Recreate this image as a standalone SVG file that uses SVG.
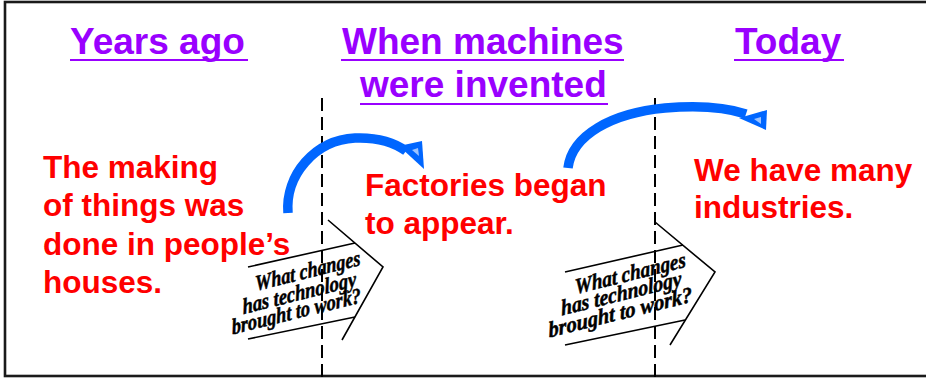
<svg xmlns="http://www.w3.org/2000/svg" width="926" height="379" viewBox="0 0 926 379">
<style>
.hd{font-family:"Liberation Sans",Arial,sans-serif;font-weight:bold;font-size:37px;fill:#9900ff;text-anchor:start}
.ul{stroke:#9900ff;stroke-width:2.2}
.rt{font-family:"Liberation Sans",Arial,sans-serif;font-weight:bold;font-size:31.5px;fill:#ff0000}
.ct{font-family:"Liberation Serif","Times New Roman",serif;font-weight:bold;font-style:italic;font-size:22px;fill:#000;stroke:#000;stroke-width:0.5;text-anchor:middle}
.co{fill:none;stroke:#000;stroke-width:1.6}
.dv{stroke:#000;stroke-width:2;stroke-dasharray:13 6}
.sh{fill:none;stroke:#0066ff;stroke-width:9.5;stroke-linecap:butt}
.ah{fill:#0066ff}
.hl{fill:#9cc3ff}
</style>
<rect x="0" y="0" width="926" height="379" fill="#fff"/>
<rect x="5" y="2" width="930" height="374" fill="none" stroke="#1a1a1a" stroke-width="2.6"/>

<g id="dividers">
<line class="dv" x1="322" y1="98" x2="322" y2="379"/>
<line class="dv" x1="655" y1="98" x2="655" y2="379"/>
</g>

<g id="heading-years-ago">
<text class="hd" x="70" y="53.5">Years ago</text>
<line class="ul" x1="70" y1="60" x2="248" y2="60"/>
</g>
<g id="heading-machines">
<text class="hd" x="342" y="53.5">When machines</text>
<line class="ul" x1="341" y1="60" x2="624" y2="60"/>
<text class="hd" x="360" y="96.5">were invented</text>
<line class="ul" x1="360" y1="104" x2="608" y2="104"/>
</g>
<g id="heading-today">
<text class="hd" x="735" y="53.5">Today</text>
<line class="ul" x1="734" y1="60" x2="844" y2="60"/>
</g>

<g id="text-years-ago">
<text class="rt" x="43" y="177.5">The making</text>
<text class="rt" x="43" y="216">of things was</text>
<text class="rt" x="43" y="254.5">done in people’s</text>
<text class="rt" x="43" y="293">houses.</text>
</g>
<g id="text-machines">
<text class="rt" x="365" y="196">Factories began</text>
<text class="rt" x="365" y="233.5">to appear.</text>
</g>
<g id="text-today">
<text class="rt" x="694" y="180.5">We have many</text>
<text class="rt" x="694" y="218">industries.</text>
</g>

<g id="callout-1">
<polyline class="co" points="248,267 355,243"/>
<polyline class="co" points="328,220 383,267 342,340"/>
<polyline class="co" points="248,339 355,317"/>
<text class="ct" transform="translate(308.5,278) rotate(-14) skewX(-8)" textLength="108" lengthAdjust="spacingAndGlyphs">What changes</text>
<text class="ct" transform="translate(300,300) rotate(-14) skewX(-8)" textLength="117" lengthAdjust="spacingAndGlyphs">has technology</text>
<text class="ct" transform="translate(297,318.5) rotate(-14) skewX(-8)" textLength="133" lengthAdjust="spacingAndGlyphs">brought to work?</text>
</g>
<g id="callout-2">
<polyline class="co" points="565,272 683,245"/>
<polyline class="co" points="655,222 715,272 670,345"/>
<polyline class="co" points="565,345 685,320"/>
<text class="ct" transform="translate(631,280.5) rotate(-14) skewX(-8)" textLength="114" lengthAdjust="spacingAndGlyphs">What changes</text>
<text class="ct" transform="translate(622,300.5) rotate(-14) skewX(-8)" textLength="124" lengthAdjust="spacingAndGlyphs">has technology</text>
<text class="ct" transform="translate(621,319.5) rotate(-14) skewX(-8)" textLength="148" lengthAdjust="spacingAndGlyphs">brought to work?</text>
</g>

<g id="connectors">
<g id="arrow-1">
<path class="sh" d="M 288 213 C 285 175 315 140 355 138 C 380 137 395 143 406 151"/>
<polygon class="ah" points="399,146 422,141 424,169"/>
<polygon class="hl" points="412,150 418,148 419,156"/>
</g>
<g id="arrow-2">
<path class="sh" d="M 568 168 C 572 135 612 113 665 108 C 700 105 725 107 746 114"/>
<polygon class="ah" points="739,118 767,110 766,130"/>
<polygon class="hl" points="754,119 761,117 761,124"/>
</g>
</g>
</svg>
